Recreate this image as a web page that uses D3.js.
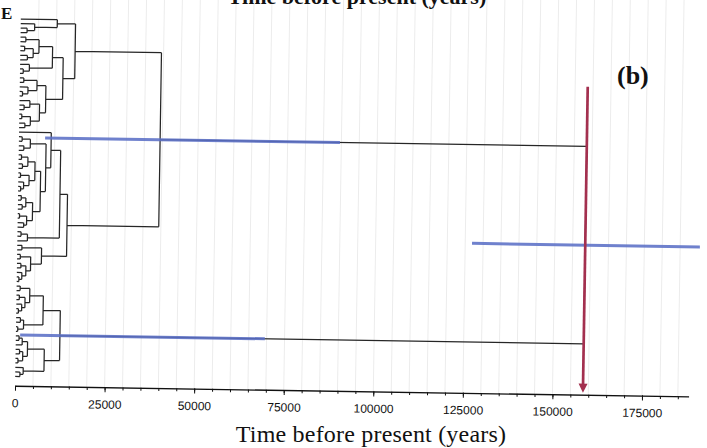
<!DOCTYPE html>
<html>
<head>
<meta charset="utf-8">
<script src="https://cdn.jsdelivr.net/npm/d3@7"></script>
<style>
  html, body { margin: 0; padding: 0; background: #fff; }
  svg { display: block; }
</style>
</head>
<body>
<script>
// Dated genealogy: internal nodes carry their age (years before present) as a label.
const cladeA1a = "(0,(1,(2,3)1800)3900)10200";
const cladeA1b1 = "(((4,5)1500,((6,7)1200,(8,9)2000)3600)5200,(10,(11,12)900)2600)9000";
const cladeA1b2 = "(((13,14)1100,(15,(16,17)800)2300)4800,((18,(19,20)1300)2900,((21,22)700,(23,24)1600)3100)5600)7300";
const cladeA2c1 = "(25,(((26,27)900,(28,29)1400)3200,((((30,31)800,(32,33)1100)2600,((34,35)600,(36,(37,38)700)1500)3000)4600,(((39,40)900,(41,42)1200)2200,((43,44)500,(45,46)1700)2500)4100)6200)7600)9000";
const cladeA2c2 = "((47,48)1000,49)2800";
const cladeA2d = "((50,51)1300,((52,53)900,((54,55)1100,(56,(57,58)600)1400)2500)3800)6800";
const cladeB1 = "(((59,60)1000,((61,62)800,(63,(64,65)600)1500)2400)3700,((66,67)1200,(68,69)500)2100)7500";
const cladeB2 = "((((70,71)900,72)1800,((73,74)1100,(75,76)700)2000)3300,(77,(78,79)1300)2200)8000";

// Ages of the deeper nodes
const ageA1b = 12000, ageA1 = 15300, ageA2c = 11700, ageA2 = 13800;
const ageA = 39400, ageB = 12300, ageRoot = 158500;

// 95% HPD intervals of node ages [low, high]
const hpdA = [7300, 89600];
const hpdB = [1200, 69500];
const hpdRoot = [126900, 190500];

// Time axis
const axisMax = 188000;
const majorTicks = [0, 25000, 50000, 75000, 100000, 125000, 150000, 175000];
const minorTicks = d3.range(0, axisMax, 5000);
const axisTitle = "Time before present (years)";
const panelLabel = "(b)";
const prevPanelLabel = "E";

const cladeA1 = `(${cladeA1a},(${cladeA1b1},${cladeA1b2})${ageA1b})${ageA1}`;
const cladeA2 = `((${cladeA2c1},${cladeA2c2})${ageA2c},${cladeA2d})${ageA2}`;
const treeNewick = `((${cladeA1},${cladeA2})${ageA},(${cladeB1},${cladeB2})${ageB})${ageRoot}`;

function parseNewick(s) {
  let i = 0;
  function node() {
    if (s[i] === "(") {
      i++;
      const children = [node()];
      while (s[i] === ",") { i++; children.push(node()); }
      i++; // closing bracket
      let lab = "";
      while (i < s.length && /[0-9.]/.test(s[i])) lab += s[i++];
      return { age: +lab, children };
    }
    let lab = "";
    while (i < s.length && /[^,()]/.test(s[i])) lab += s[i++];
    return { name: lab, age: 0 };
  }
  return node();
}

const W = 707, H = 448;
const svg = d3.select("body").append("svg").attr("width", W).attr("height", H);

// whole panel sits slightly tilted
const g = svg.append("g").attr("transform", "rotate(0.9,350,220)");

const x = d3.scaleLinear().domain([0, axisMax]).range([17.7, 17.7 + axisMax * 0.003583]);
const leafTop = 22, leafBottom = 384, axisY = 391;

const root = d3.hierarchy(parseNewick(treeNewick));
d3.cluster().size([leafBottom - leafTop, 1]).separation(() => 1)(root);
root.each(n => { n.py = leafTop + n.x; n.px = x(n.data.age); });

// faint grid
g.append("g").selectAll("line")
  .data(minorTicks.filter(t => t > 0))
  .join("line")
  .attr("x1", d => x(d)).attr("x2", d => x(d))
  .attr("y1", -10).attr("y2", axisY)
  .attr("stroke", "#ececec").attr("stroke-width", 1);

// branches
const p = d3.path();
root.each(n => {
  if (n.children) {
    const ys = n.children.map(c => c.py);
    p.moveTo(n.px, d3.min(ys)); p.lineTo(n.px, d3.max(ys));
  }
  if (n.parent) {
    p.moveTo(n.parent.px, n.py); p.lineTo(n.px, n.py);
  }
});
g.append("path").attr("d", p.toString())
  .attr("fill", "none").attr("stroke", "#262626").attr("stroke-width", 1.25);

// HPD bars
const nodeA = root.children[0], nodeB = root.children[1];
const bars = [
  { node: nodeA, hpd: hpdA },
  { node: nodeB, hpd: hpdB },
  { node: root, hpd: hpdRoot }
];
g.append("g").selectAll("line").data(bars).join("line")
  .attr("x1", d => x(d.hpd[0])).attr("x2", d => x(d.hpd[1]))
  .attr("y1", d => d.node.py).attr("y2", d => d.node.py)
  .attr("stroke", "#5b70c6").attr("stroke-width", 3).attr("stroke-opacity", 0.88);

// arrow marking the root age
const ax = x(ageRoot), arrowTop = 83, arrowTip = 389;
g.append("line").attr("x1", ax).attr("x2", ax).attr("y1", arrowTop).attr("y2", arrowTip - 6)
  .attr("stroke", "#a3304f").attr("stroke-width", 2.7);
g.append("path")
  .attr("d", `M${ax - 4.5},${arrowTip - 9}L${ax + 4.5},${arrowTip - 9}L${ax},${arrowTip}Z`)
  .attr("fill", "#a3304f");

// axis
const axisG = g.append("g").attr("transform", `translate(0,${axisY})`);
axisG.call(d3.axisBottom(x).tickValues(majorTicks).tickSize(5).tickSizeOuter(0).tickPadding(8).tickFormat(d3.format("d")));
axisG.select(".domain").attr("stroke", "#111").attr("stroke-width", 1.3);
axisG.selectAll(".tick line").attr("stroke", "#111");
axisG.selectAll(".tick text").attr("font-family", "Liberation Sans, Arial, sans-serif").attr("font-size", 12).attr("fill", "#111");
const minorG = g.append("g").attr("transform", `translate(0,${axisY})`);
minorG.call(d3.axisBottom(x).tickValues(minorTicks).tickSize(3).tickFormat(""));
minorG.select(".domain").remove();
minorG.selectAll(".tick line").attr("stroke", "#111");

// texts
svg.append("text").attr("x", 371).attr("y", 442).attr("text-anchor", "middle")
  .attr("font-family", "Liberation Serif, Times New Roman, serif").attr("font-size", 24)
  .attr("letter-spacing", 0.2).attr("fill", "#111")
  .text(axisTitle);
svg.append("text").attr("x", 357).attr("y", 4).attr("text-anchor", "middle")
  .attr("font-family", "Liberation Serif, Times New Roman, serif").attr("font-weight", "bold").attr("font-size", 22).attr("fill", "#111")
  .text(axisTitle);
svg.append("text").attr("x", 617).attr("y", 84)
  .attr("font-family", "Liberation Serif, Times New Roman, serif").attr("font-weight", "bold").attr("font-size", 26).attr("fill", "#111")
  .text(panelLabel);
svg.append("text").attr("x", 1).attr("y", 19)
  .attr("font-family", "Liberation Serif, Times New Roman, serif").attr("font-weight", "bold").attr("font-size", 17).attr("fill", "#111")
  .text(prevPanelLabel);
</script>
</body>
</html>
